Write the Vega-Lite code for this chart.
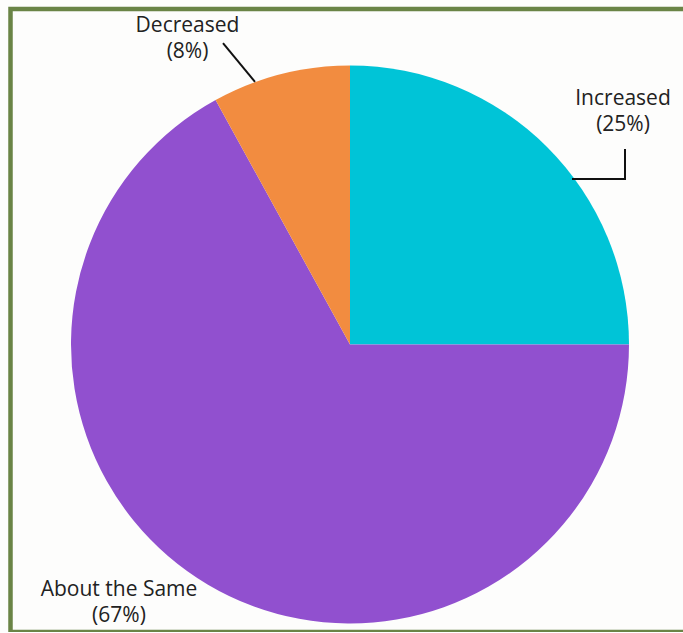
{
  "$schema": "https://vega.github.io/schema/vega-lite/v6.json",
  "autosize": {"type": "none"},
  "padding": {"left": 10.5, "top": 9, "right": 0, "bottom": 0},
  "width": 676,
  "height": 623,
  "background": "#fdfdfc",
  "config": {
    "view": {"stroke": "#6a8446", "strokeWidth": 4.5},
    "text": {"font": "Open Sans", "fontSize": 21, "color": "#222222", "lineHeight": 26, "align": "center", "baseline": "alphabetic"}
  },
  "data": {
    "values": [
      {"category": "Increased", "value": 25, "idx": 1, "label": "Increased\n(25%)"},
      {"category": "About the Same", "value": 67, "idx": 2, "label": "About the Same\n(67%)"},
      {"category": "Decreased", "value": 8, "idx": 3, "label": "Decreased\n(8%)"}
    ]
  },
  "encoding": {
    "x": {"type": "quantitative", "scale": {"domain": [-1.21685, 1.20609], "nice": false, "zero": false}, "axis": null},
    "y": {"type": "quantitative", "scale": {"domain": [-1.03047, 1.20251], "nice": false, "zero": false}, "axis": null}
  },
  "layer": [
    {
      "mark": {"type": "arc", "outerRadius": 279, "stroke": null},
      "encoding": {
        "x": {"datum": 0},
        "y": {"datum": 0},
        "theta": {"field": "value", "type": "quantitative", "stack": true},
        "order": {"field": "idx", "type": "quantitative"},
        "color": {"field": "category", "type": "nominal", "legend": null,
          "scale": {"domain": ["Increased", "About the Same", "Decreased"], "range": ["#00c4d7", "#9150cf", "#f28c40"]}}
      }
    },
    {
      "transform": [{"filter": "datum.category === 'Decreased'"}],
      "mark": {"type": "text", "lineBreak": "\n"},
      "encoding": {"x": {"datum": -0.5824}, "y": {"datum": 1.1201}, "text": {"field": "label"}}
    },
    {
      "transform": [{"filter": "datum.category === 'Increased'"}],
      "mark": {"type": "text", "lineBreak": "\n"},
      "encoding": {"x": {"datum": 0.9785}, "y": {"datum": 0.8584}, "text": {"field": "label"}}
    },
    {
      "transform": [{"filter": "datum.category === 'About the Same'"}],
      "mark": {"type": "text", "lineBreak": "\n"},
      "encoding": {"x": {"datum": -0.828}, "y": {"datum": -0.9014}, "text": {"field": "label"}}
    },
    {
      "transform": [{"filter": "datum.category === 'Decreased'"}],
      "mark": {"type": "rule", "color": "#111111", "strokeWidth": 2},
      "encoding": {"x": {"datum": -0.4552}, "y": {"datum": 1.0806}, "x2": {"datum": -0.3405}, "y2": {"datum": 0.9409}}
    },
    {
      "transform": [{"filter": "datum.category === 'Increased'"}],
      "mark": {"type": "rule", "color": "#111111", "strokeWidth": 2},
      "encoding": {"x": {"datum": 0.9857}, "y": {"datum": 0.7007}, "x2": {"datum": 0.9857}, "y2": {"datum": 0.5932}}
    },
    {
      "transform": [{"filter": "datum.category === 'Increased'"}],
      "mark": {"type": "rule", "color": "#111111", "strokeWidth": 2, "strokeCap": "square"},
      "encoding": {"x": {"datum": 0.7993}, "y": {"datum": 0.5932}, "x2": {"datum": 0.9857}, "y2": {"datum": 0.5932}}
    }
  ]
}
